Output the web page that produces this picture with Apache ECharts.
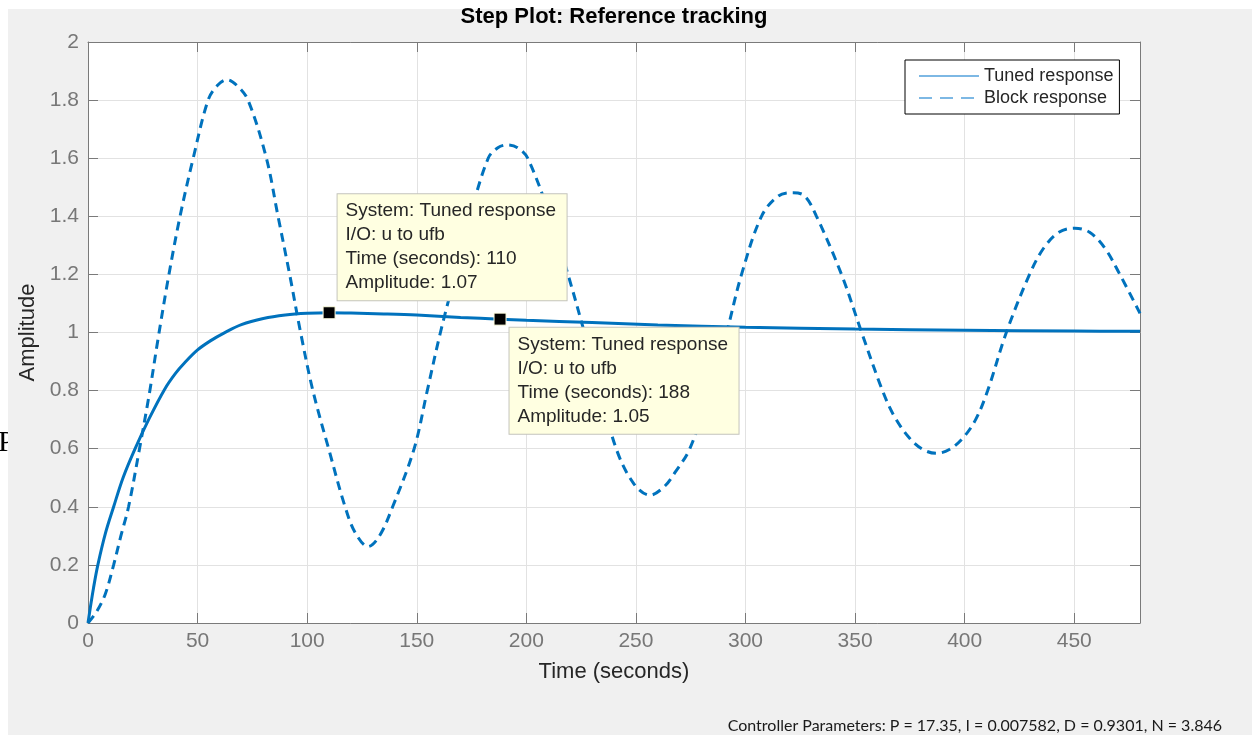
<!DOCTYPE html>
<html>
<head>
<meta charset="utf-8">
<script src="https://cdn.jsdelivr.net/npm/echarts@6/dist/echarts.min.js"></script>
<style>
html,body{margin:0;padding:0;background:#fff;}
#chart{width:1252px;height:735px;}
</style>
</head>
<body>
<div id="chart"></div>
<script>
// ---- data ----
var tunedTime = [0, 1, 2.5, 4.5, 8, 11.7, 16, 21.5, 28, 35, 40, 44, 50, 56, 62, 70, 80, 90, 100, 110, 120, 135, 150, 170, 188, 200, 230, 260, 300, 350, 400, 450, 480];
var tunedAmp  = [0, 0.05, 0.12, 0.2, 0.31, 0.4, 0.5, 0.6, 0.705, 0.805, 0.86, 0.895, 0.94, 0.972, 0.998, 1.027, 1.048, 1.06, 1.066, 1.068, 1.067, 1.064, 1.06, 1.052, 1.046, 1.042, 1.034, 1.026, 1.018, 1.012, 1.008, 1.005, 1.004];

var blockTime = [0, 4, 7.9, 11.7, 15, 18.5, 23.5, 28, 32, 36.7, 42, 48, 54.8, 59, 63.5, 68, 73, 81.4, 86.7, 92, 97, 102.6, 109.8, 117.3, 122, 127.8, 133, 139, 148.8, 154.8, 160.8, 167.6, 174.3, 182.6, 187, 191.6, 196, 200.6, 210.8, 219, 226.5, 233, 241, 249, 256.4, 263, 268, 274.6, 283.8, 291.4, 298.2, 307.3, 315, 321.8, 327, 332.4, 343.8, 353, 362.5, 368, 375, 381, 387.2, 393, 399, 405, 410.5, 419, 429.6, 436, 443, 450.3, 457, 464, 470.8, 480];
var blockAmp  = [0, 0.04, 0.1, 0.2, 0.3, 0.4, 0.6, 0.79, 0.98, 1.19, 1.4, 1.6, 1.8, 1.85, 1.87, 1.85, 1.8, 1.6, 1.4, 1.2, 1.0, 0.8, 0.6, 0.4, 0.31, 0.263, 0.3, 0.4, 0.6, 0.8, 1.0, 1.2, 1.4, 1.6, 1.636, 1.646, 1.636, 1.6, 1.4, 1.2, 1.0, 0.82, 0.6, 0.48, 0.44, 0.47, 0.52, 0.6, 0.8, 1.0, 1.2, 1.4, 1.47, 1.481, 1.47, 1.4, 1.2, 1.0, 0.8, 0.71, 0.635, 0.597, 0.584, 0.597, 0.635, 0.7, 0.8, 1.0, 1.2, 1.29, 1.345, 1.359, 1.345, 1.29, 1.2, 1.066];

var tipTime = [110, 188];
var tipAmp  = [1.068, 1.046];

var seriesNames = ['Tuned response', 'Block response'];
var xTicks = [0, 50, 100, 150, 200, 250, 300, 350, 400, 450];
var titleText = 'Step Plot: Reference tracking';
var xName = 'Time (seconds)';
var yName = 'Amplitude';
var footText = 'Controller Parameters: P = 17.35, I = 0.007582, D = 0.9301, N = 3.846';

// ---- build ----
function pairs(t, v){ return t.map(function(x,i){ return [x, v[i]]; }); }
var FONT = '"Liberation Sans", Arial, sans-serif';
var BLUE = '#0072BD';
var AXC = '#7a7a7a';

var tipData = tipTime.map(function(t, i){
  return {
    coord: [t, tipAmp[i]],
    label: {
      position: i === 0 ? [15, -112] : [16, 15]
    },
    value: 'System: ' + seriesNames[0] + '\nI/O: u to ufb\nTime (seconds): ' + t + '\nAmplitude: ' + tipAmp[i].toFixed(2)
  };
});

var chart = echarts.init(document.getElementById('chart'), null, {renderer:'canvas'});
chart.setOption({
  animation: false,
  backgroundColor: 'transparent',
  textStyle: {fontFamily: FONT},
  title: {
    text: titleText,
    left: 614, top: 6, textAlign: 'center', padding: 0,
    textStyle: {fontFamily: FONT, fontSize: 22, fontWeight: 'bold', color: '#000'}
  },
  grid: {left: 88, top: 42, right: 112, bottom: 112, show: true, backgroundColor: '#fff', borderWidth: 0},
  legend: {
    orient: 'vertical', left: 905, top: 60,
    backgroundColor: '#fff', borderColor: '#000', borderWidth: 1, borderRadius: 0,
    padding: [7, 6, 7, 13],
    itemWidth: 60, itemHeight: 14, itemGap: 4,
    textStyle: {fontFamily: FONT, fontSize: 18, color: '#262626', lineHeight: 18},
    data: [
      {name: seriesNames[0], itemStyle: {color: 'rgba(0,0,0,0)', borderWidth: 0, opacity: 0},
        lineStyle: {color: '#7db8e4', width: 2, type: 'solid'}},
      {name: seriesNames[1], itemStyle: {color: 'rgba(0,0,0,0)', borderWidth: 0, opacity: 0},
        lineStyle: {color: '#7db8e4', width: 2, type: [13, 8]}}
    ]
  },
  xAxis: [{
    type: 'value', min: 0, max: 480, interval: 50, position: 'bottom',
    name: xName, nameLocation: 'middle', nameGap: 38,
    nameTextStyle: {fontFamily: FONT, fontSize: 22, color: '#262626'},
    axisLine: {show: true, onZero: false, lineStyle: {color: AXC, width: 1}},
    axisTick: {show: true, inside: true, length: 10, lineStyle: {color: AXC}},
    axisLabel: {margin: 8, fontSize: 21, color: '#777', fontFamily: FONT,
      formatter: function(v){ return xTicks.indexOf(v) >= 0 ? String(v) : ''; }},
    splitLine: {show: true, lineStyle: {color: '#e2e2e2', width: 1}}
  }, {
    type: 'value', min: 0, max: 480, interval: 50, position: 'top',
    axisLine: {show: true, onZero: false, lineStyle: {color: AXC, width: 1}},
    axisTick: {show: true, inside: true, length: 10, lineStyle: {color: AXC}},
    axisLabel: {show: false}, splitLine: {show: false}
  }],
  yAxis: [{
    type: 'value', min: 0, max: 2, interval: 0.2, position: 'left',
    name: yName, nameLocation: 'middle', nameGap: 41, nameRotate: 90,
    nameTextStyle: {fontFamily: FONT, fontSize: 22, color: '#262626'},
    axisLine: {show: true, onZero: false, lineStyle: {color: AXC, width: 1}},
    axisTick: {show: true, inside: true, length: 10, lineStyle: {color: AXC}},
    axisLabel: {margin: 9, fontSize: 21, color: '#777', fontFamily: FONT,
      formatter: function(v){ return String(+v.toFixed(1)); }},
    splitLine: {show: true, lineStyle: {color: '#e2e2e2', width: 1}}
  }, {
    type: 'value', min: 0, max: 2, interval: 0.2, position: 'right',
    axisLine: {show: true, onZero: false, lineStyle: {color: AXC, width: 1}},
    axisTick: {show: true, inside: true, length: 10, lineStyle: {color: AXC}},
    axisLabel: {show: false}, splitLine: {show: false}
  }],
  series: [{
    name: seriesNames[0], type: 'line', xAxisIndex: 0, yAxisIndex: 0,
    data: pairs(tunedTime, tunedAmp), symbol: 'none', smooth: 0.35,
    lineStyle: {color: BLUE, width: 3}, itemStyle: {color: BLUE}, z: 3,
    markPoint: {
      symbol: 'rect', symbolSize: 12,
      itemStyle: {color: '#000', borderColor: '#ffffe1', borderWidth: 1},
      label: {
        show: true, formatter: function(p){ return p.data.value; },
        backgroundColor: '#ffffe1', borderColor: '#c4c4bc', borderWidth: 1,
        padding: [5, 8, 5, 8], width: 213, lineHeight: 24,
        fontFamily: FONT, fontSize: 19, color: '#262626', align: 'left', verticalAlign: 'top'
      },
      data: tipData, z: 10
    }
  }, {
    name: seriesNames[1], type: 'line', xAxisIndex: 0, yAxisIndex: 0,
    data: pairs(blockTime, blockAmp), symbol: 'none', smooth: 0.35,
    lineStyle: {color: BLUE, width: 3, type: [9, 6]}, itemStyle: {color: BLUE}, z: 2
  }],
  graphic: [
    {type: 'text', x: -2, y: 428, z: -3, style: {text: 'P', font: '30px "Liberation Serif", serif', fill: '#000'}},
    {type: 'rect', z: -2, shape: {x: 8, y: 9, width: 1244, height: 726}, style: {fill: '#f0f0f0'}},
    {type: 'text', x: 1222, y: 726, z: 5, style: {text: footText, font: '16px Lato, sans-serif', fill: '#1a1a1a', textAlign: 'right', textVerticalAlign: 'middle'}}
  ]
});
</script>
</body>
</html>
